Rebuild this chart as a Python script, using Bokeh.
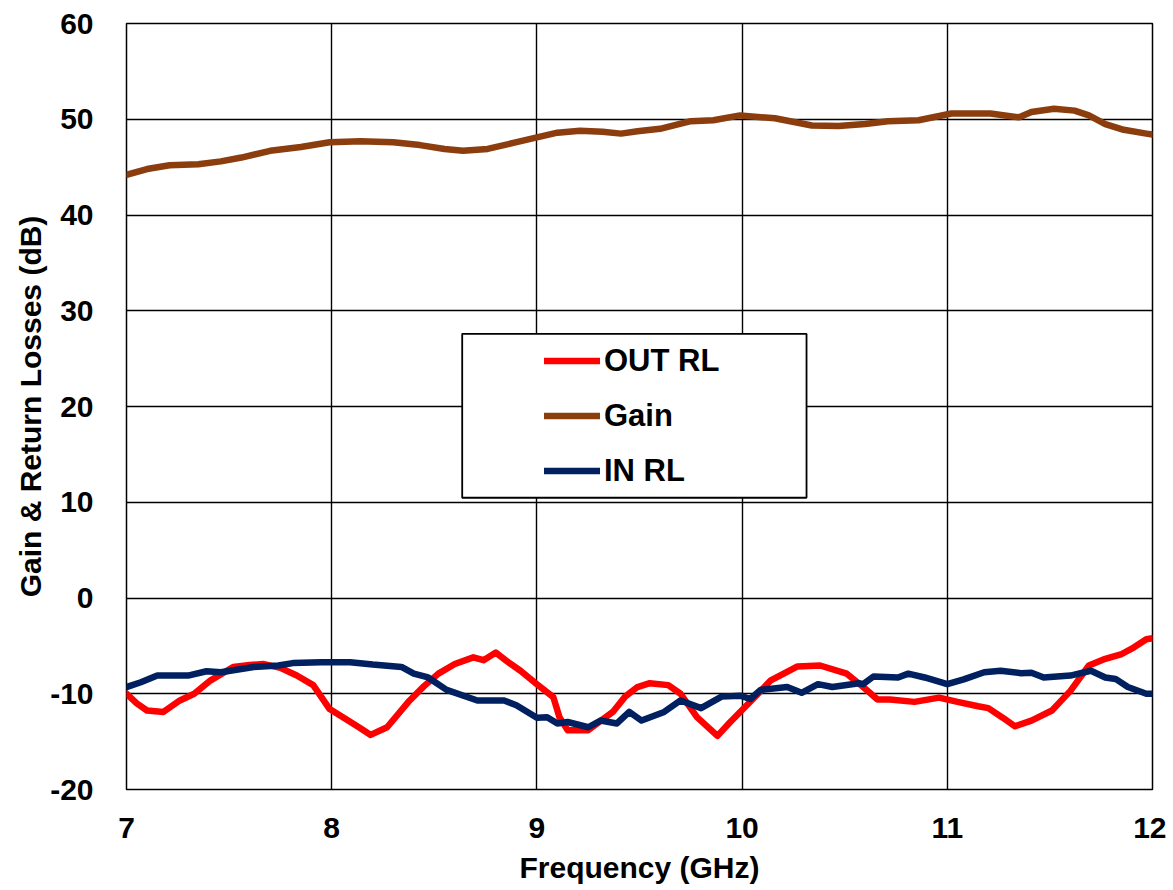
from bokeh.plotting import figure
from bokeh.models import FixedTicker, Legend, LegendItem, BoxAnnotation, PrintfTickFormatter
from bokeh.embed import file_html
from bokeh.resources import INLINE

# ---------------- data ----------------
gain_f = [7.00, 7.10, 7.21, 7.35, 7.46, 7.56, 7.70, 7.85, 7.99, 8.14, 8.30, 8.43, 8.55, 8.64, 8.76,
          8.88, 9.00, 9.10, 9.21, 9.32, 9.41, 9.49, 9.60, 9.75, 9.86, 9.99, 10.16, 10.34, 10.47,
          10.60, 10.71, 10.86, 11.02, 11.21, 11.35, 11.41, 11.52, 11.62, 11.69, 11.77, 11.86,
          11.97, 12.00]
gain_db = [44.2, 44.8, 45.2, 45.3, 45.6, 46.0, 46.7, 47.1, 47.6, 47.7, 47.6, 47.3, 46.9, 46.7, 46.9,
           47.5, 48.1, 48.6, 48.8, 48.7, 48.5, 48.75, 49.0, 49.8, 49.9, 50.4, 50.1, 49.35, 49.3,
           49.5, 49.8, 49.9, 50.6, 50.6, 50.2, 50.75, 51.1, 50.9, 50.4, 49.5, 48.9, 48.5, 48.4]

out_f = [7.00, 7.05, 7.10, 7.18, 7.26, 7.33, 7.41, 7.52, 7.60, 7.67, 7.75, 7.83, 7.91, 7.99, 8.08,
         8.14, 8.19, 8.27, 8.38, 8.45, 8.52, 8.60, 8.69, 8.74, 8.80, 8.86, 8.92, 9.00, 9.08, 9.11,
         9.15, 9.25, 9.37, 9.43, 9.49, 9.55, 9.64, 9.70, 9.78, 9.88, 9.94, 10.03, 10.14, 10.27,
         10.38, 10.51, 10.59, 10.66, 10.72, 10.84, 10.96, 11.05, 11.15, 11.20, 11.27, 11.33,
         11.41, 11.51, 11.60, 11.69, 11.77, 11.85, 11.91, 11.97, 12.00]
out_rl = [-10.0, -11.0, -11.75, -11.9, -10.7, -10.0, -8.6, -7.2, -7.0, -6.9, -7.3, -8.1, -9.1, -11.6,
          -12.8, -13.6, -14.3, -13.5, -10.7, -9.2, -7.9, -6.9, -6.2, -6.5, -5.7, -6.7, -7.6, -9.0,
          -10.35, -12.45, -13.8, -13.8, -11.9, -10.3, -9.3, -8.9, -9.1, -10.0, -12.45, -14.4,
          -13.0, -11.05, -8.6, -7.15, -7.05, -7.9, -9.3, -10.6, -10.6, -10.85, -10.4, -10.85,
          -11.3, -11.5, -12.5, -13.4, -12.8, -11.75, -9.7, -7.05, -6.35, -5.85, -5.15, -4.3, -4.2]

in_f = [7.00, 7.07, 7.15, 7.30, 7.39, 7.46, 7.62, 7.74, 7.81, 7.95, 8.09, 8.20, 8.34, 8.40, 8.47,
        8.56, 8.71, 8.84, 8.90, 9.00, 9.05, 9.10, 9.15, 9.25, 9.31, 9.39, 9.45, 9.51, 9.62, 9.70,
        9.80, 9.90, 9.99, 10.04, 10.09, 10.22, 10.29, 10.37, 10.44, 10.57, 10.59, 10.64, 10.76,
        10.81, 10.89, 11.00, 11.08, 11.18, 11.26, 11.36, 11.41, 11.47, 11.60, 11.70, 11.77,
        11.82, 11.88, 11.97, 12.00]
in_rl = [-9.3, -8.8, -8.1, -8.1, -7.65, -7.75, -7.2, -7.05, -6.8, -6.7, -6.7, -6.95, -7.2, -7.9,
         -8.3, -9.6, -10.7, -10.7, -11.2, -12.5, -12.45, -13.1, -12.95, -13.5, -12.8, -13.1,
         -11.9, -12.8, -11.9, -10.7, -11.5, -10.3, -10.2, -10.55, -9.6, -9.3, -9.9, -9.0, -9.3,
         -8.9, -9.0, -8.2, -8.3, -7.9, -8.3, -9.0, -8.5, -7.75, -7.6, -7.85, -7.8, -8.3, -8.1,
         -7.6, -8.3, -8.45, -9.3, -10.0, -10.0]

x_ticks = [7, 8, 9, 10, 11, 12]
y_ticks = [-20, -10, 0, 10, 20, 30, 40, 50, 60]

FONT = "Liberation Sans"

p = figure(frame_width=1026, frame_height=766,
           x_range=(7, 12), y_range=(-20, 60),
           output_backend="svg", toolbar_location=None,
           min_border_left=126, min_border_top=23, min_border_right=14, min_border_bottom=92)
p.background_fill_color = "white"
p.border_fill_color = "white"
p.outline_line_color = "black"
p.outline_line_width = 1.5

for ax in (p.xaxis[0], p.yaxis[0]):
    ax.major_label_text_font = FONT
    ax.major_label_text_font_style = "bold"
    ax.major_label_text_font_size = "30px"
    ax.major_label_text_color = "black"
    ax.axis_label_text_font = FONT
    ax.axis_label_text_font_style = "bold"
    ax.axis_label_text_font_size = "30px"
    ax.axis_label_text_color = "black"
    ax.axis_line_color = None
    ax.major_tick_line_color = None
    ax.minor_tick_line_color = None
    ax.formatter = PrintfTickFormatter(format="%d")

p.xaxis.ticker = FixedTicker(ticks=x_ticks)
p.yaxis.ticker = FixedTicker(ticks=y_ticks)
p.xaxis.axis_label = "Frequency (GHz)"
p.yaxis.axis_label = "Gain & Return Losses (dB)"
p.xaxis.major_label_standoff = 22
p.yaxis.major_label_standoff = 27
p.xaxis.axis_label_standoff = 10
p.yaxis.axis_label_standoff = 0

p.xgrid.ticker = FixedTicker(ticks=x_ticks)
p.ygrid.ticker = FixedTicker(ticks=y_ticks)
p.grid.grid_line_color = "black"
p.grid.grid_line_width = 1.4

r_out = p.line(out_f, out_rl, line_color="#FF0000", line_width=6.5, line_cap="round", line_join="round")
r_gain = p.line(gain_f, gain_db, line_color="#8B3D0E", line_width=6.5, line_cap="round", line_join="round")
r_in = p.line(in_f, in_rl, line_color="#002060", line_width=6.5, line_cap="round", line_join="round")

# legend frame (white box with black border)
box = BoxAnnotation(left=8.636, right=10.314, bottom=10.47, top=27.59,
                    fill_color="white", fill_alpha=1.0,
                    line_color="black", line_alpha=1.0, line_width=1.8, level="annotation")
p.add_layout(box)

legend = Legend(items=[LegendItem(label="OUT RL", renderers=[r_out]),
                       LegendItem(label="Gain", renderers=[r_gain]),
                       LegendItem(label="IN RL", renderers=[r_in])],
                location=(418, 291), orientation="vertical",
                padding=0, margin=0, spacing=0,
                glyph_width=56, glyph_height=55, label_height=55,
                label_standoff=4,
                label_text_font=FONT, label_text_font_style="bold",
                label_text_font_size="31px", label_text_color="black",
                background_fill_alpha=0, border_line_alpha=0)
p.add_layout(legend)

open("out.html", "w").write(file_html(p, INLINE))
